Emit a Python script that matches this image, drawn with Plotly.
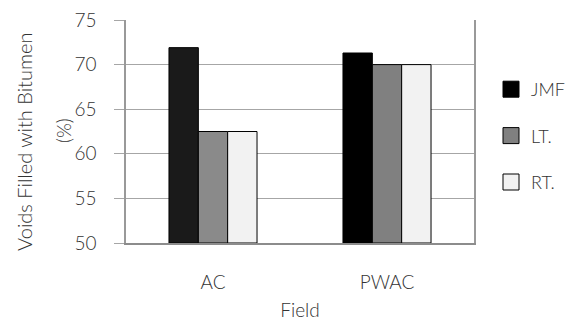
import plotly.graph_objects as go

categories = ["AC", "PWAC"]
series_names = ["JMF", "LT.", "RT."]
jmf_values = [71.9, 71.3]
lt_values = [62.5, 70.0]
rt_values = [62.5, 70.0]
y_ticks = [50, 55, 60, 65, 70, 75]

FONT = "Lato"
TXT = "#333333"

bar_colors = [["#1a1a1a", "#000000"], ["#8a8a8a", "#808080"], ["#f2f2f2", "#f2f2f2"]]
legend_colors = ["#000000", "#808080", "#f2f2f2"]
values = [jmf_values, lt_values, rt_values]

fig = go.Figure()
for name, vals, cols in zip(series_names, values, bar_colors):
    fig.add_trace(go.Bar(
        x=categories, y=[v - 50 for v in vals], base=50, name=name,
        marker=dict(color=cols, line=dict(color="#000000", width=1)),
        showlegend=False,
    ))
for name, col in zip(series_names, legend_colors):
    fig.add_trace(go.Scatter(
        x=[None], y=[None], mode="markers", name=name,
        marker=dict(symbol="square", size=16, color=col, line=dict(color="#000000", width=1)),
        legendgroup=name,
    ))

W, H = 574, 325
L, R, T, B = 126, 100, 20, 82
pw = W - L - R
ph = H - T - B

fig.update_layout(
    width=W, height=H,
    margin=dict(l=L, r=R, t=T, b=B, autoexpand=False),
    paper_bgcolor="white", plot_bgcolor="white",
    font=dict(family=FONT, size=19, color=TXT, weight=300),
    barmode="group", bargap=0.494, bargroupgap=0,
    legend=dict(x=(491 - L) / pw, xanchor="left", y=(H - B - 71) / ph, yanchor="top",
                font=dict(size=18, family=FONT, color=TXT, weight=300),
                tracegroupgap=20, bgcolor="rgba(0,0,0,0)"),
    xaxis=dict(showline=True, linecolor="#8c8c8c", linewidth=2, mirror=False,
               ticks="", ticklabelstandoff=21, showgrid=False, automargin=False,
               title=dict(text="Field", standoff=12, font=dict(size=19, family=FONT, color=TXT, weight=300))),
    yaxis=dict(range=[50, 75], tickvals=y_ticks, showgrid=True, gridcolor="#a6a6a6", gridwidth=1,
               showline=True, linecolor="#999999", linewidth=1.5, mirror=True, automargin=False,
               ticks="outside", ticklen=10, tickcolor="#a6a6a6", ticklabelstandoff=14,
               zeroline=False),
    annotations=[
        dict(text="Voids Filled with Bitumen", textangle=-90, xref="paper", yref="paper",
             x=(24 - L) / pw, y=(H - B - 142) / ph, xanchor="center", yanchor="middle",
             showarrow=False, font=dict(size=20, family=FONT, color=TXT, weight=300)),
        dict(text="(%)", textangle=-90, xref="paper", yref="paper",
             x=(63 - L) / pw, y=(H - B - 131) / ph, xanchor="center", yanchor="middle",
             showarrow=False, font=dict(size=19, family=FONT, color=TXT, weight=300)),
    ],
)

fig.write_html("out.html", config={"displayModeBar": False},
               post_script="document.body.style.margin='0';document.body.style.overflow='hidden';")
